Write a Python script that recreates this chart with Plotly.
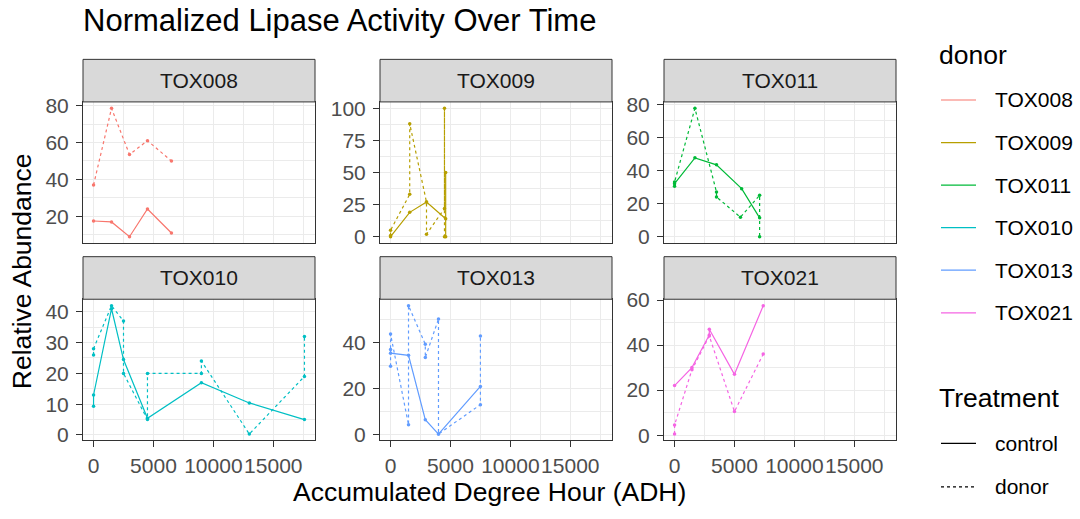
import plotly.graph_objects as go

W, H = 1080, 519

# ---------------- data ----------------
DONORS = ["TOX008", "TOX009", "TOX011", "TOX010", "TOX013", "TOX021"]
COLORS = ["#F8766D", "#B79F00", "#00BA38", "#00BFC4", "#619CFF", "#F564E3"]
TREATMENTS = ["control", "donor"]

tox008_control_adh = [0, 1500, 3000, 4500, 6500]
tox008_control_val = [17.5, 17, 9, 24, 11]
tox008_donor_adh = [0, 1500, 3000, 4500, 6500]
tox008_donor_val = [37, 78.5, 53.5, 61, 50]

tox009_control_adh = [0, 1600, 3000, 4600, 4600, 4600]
tox009_control_val = [0, 19, 27, 14, 50, 0]
tox009_donor_adh = [0, 0, 1600, 1600, 3000, 3000, 4500, 4500, 4500]
tox009_donor_val = [1, 5, 33, 88, 27, 2, 22, 100, 0]

tox011_control_adh = [0, 1700, 3500, 5600, 7100]
tox011_control_val = [32, 47.6, 43.4, 29, 11.4]
tox011_donor_adh = [0, 0, 1700, 3500, 3500, 5500, 7100, 7100]
tox011_donor_val = [30.5, 33, 77.5, 27, 24, 11.8, 25, 0]

tox010_control_adh = [0, 0, 1500, 2500, 4500, 9000, 13000, 17600]
tox010_control_val = [9.3, 13, 41, 24.5, 5.4, 17, 10.4, 5]
tox010_donor_adh = [0, 0, 1500, 2500, 2500, 4500, 4500, 9000, 9000, 13000, 17600, 17600]
tox010_donor_val = [26, 28, 42, 37, 20, 5, 20, 20, 24, 0.3, 19, 32]

tox013_control_adh = [0, 0, 1500, 2900, 4000, 7500]
tox013_control_val = [37, 35.4, 34.5, 6.6, 0.4, 21]
tox013_donor_adh = [0, 0, 1500, 1500, 2900, 2900, 4000, 4000, 7500, 7500]
tox013_donor_val = [29.8, 43.7, 4.4, 56, 39.3, 33.5, 50.2, 0.4, 13.1, 42.9]

tox021_control_adh = [0, 1450, 2900, 2900, 5000, 7400]
tox021_control_val = [22, 30, 44.5, 47, 27, 57.5]
tox021_donor_adh = [0, 0, 1450, 2900, 5000, 7400]
tox021_donor_val = [0.5, 4.5, 29, 44, 10.5, 36]

X_TICK_VALS = [0, 5000, 10000, 15000]
X_TICK_TEXT = ["0", "5000", "10000", "15000"]
Y_TICK_STEP = [20, 25, 20, 10, 20, 20]

SERIES = {
    "TOX008": {"control": (tox008_control_adh, tox008_control_val), "donor": (tox008_donor_adh, tox008_donor_val)},
    "TOX009": {"control": (tox009_control_adh, tox009_control_val), "donor": (tox009_donor_adh, tox009_donor_val)},
    "TOX011": {"control": (tox011_control_adh, tox011_control_val), "donor": (tox011_donor_adh, tox011_donor_val)},
    "TOX010": {"control": (tox010_control_adh, tox010_control_val), "donor": (tox010_donor_adh, tox010_donor_val)},
    "TOX013": {"control": (tox013_control_adh, tox013_control_val), "donor": (tox013_donor_adh, tox013_donor_val)},
    "TOX021": {"control": (tox021_control_adh, tox021_control_val), "donor": (tox021_donor_adh, tox021_donor_val)},
}

# ---------------- layout geometry (pixels) ----------------
COLS = [(83, 315), (380, 612), (664, 896)]
ROWS = [(94, 240), (298, 444)]
STRIP_H = 44
FONT = "Liberation Sans, Arial, sans-serif"
DASH = "3px,3px"


def px_x(p):
    return p / W


def px_y(p):
    return 1 - p / H


def expand(vals):
    lo, hi = min(vals), max(vals)
    pad = (hi - lo) * 0.05
    return [lo - pad, hi + pad]


all_x = [x for d in DONORS for t in TREATMENTS for x in SERIES[d][t][0]]
x_range = expand(all_x)

fig = go.Figure()
layout = {}
shapes = []
annotations = []

for i, donor in enumerate(DONORS):
    r, c = divmod(i, 3)
    n = "" if i == 0 else str(i + 1)
    x0, x1 = COLS[c]
    y0, y1 = ROWS[r]
    color = COLORS[i]
    panel_y = []
    for t in TREATMENTS:
        xs, ys = SERIES[donor][t]
        panel_y += ys
        fig.add_trace(go.Scatter(
            x=xs, y=ys, mode="lines+markers",
            line=dict(color=color, width=1.2, dash=None if t == "control" else DASH),
            marker=dict(size=3.5, color=color),
            xaxis="x" + n, yaxis="y" + n, showlegend=False,
            name=f"{donor} {t}",
        ))
    step = Y_TICK_STEP[i]
    bottom_row = r == 1
    layout["xaxis" + n] = dict(
        domain=[px_x(x0), px_x(x1)], anchor="y" + n, range=x_range,
        tickmode="array", tickvals=X_TICK_VALS, ticktext=X_TICK_TEXT,
        showticklabels=bottom_row, ticks="outside" if bottom_row else "",
        ticklen=6, tickwidth=1, tickcolor="#333333", tickangle=0,
        tickfont=dict(size=21, color="#4D4D4D", family=FONT),
        showgrid=True, gridcolor="#EBEBEB", gridwidth=1.1,
        minor=dict(tickmode="linear", tick0=0, dtick=2500, showgrid=True,
                   gridcolor="#EBEBEB", gridwidth=0.6, ticks=""),
        showline=True, mirror=True, linecolor="#333333", linewidth=1,
        zeroline=False, fixedrange=True,
    )
    layout["yaxis" + n] = dict(
        domain=[px_y(y1), px_y(y0)], anchor="x" + n, range=expand(panel_y),
        tickmode="linear", tick0=0, dtick=step,
        ticks="outside", ticklen=6, tickwidth=1, tickcolor="#333333",
        ticklabelstandoff=3,
        tickfont=dict(size=21, color="#4D4D4D", family=FONT),
        showgrid=True, gridcolor="#EBEBEB", gridwidth=1.1,
        minor=dict(tickmode="linear", tick0=0, dtick=step / 2, showgrid=True,
                   gridcolor="#EBEBEB", gridwidth=0.6, ticks=""),
        showline=True, mirror=True, linecolor="#333333", linewidth=1,
        zeroline=False, fixedrange=True,
    )
    # strip
    shapes.append(dict(type="rect", xref="paper", yref="paper",
                       x0=px_x(x0), x1=px_x(x1), y0=px_y(y0), y1=px_y(y0 - STRIP_H),
                       fillcolor="#D9D9D9", line=dict(color="#333333", width=1), layer="above"))
    annotations.append(dict(text=donor, xref="paper", yref="paper",
                            x=px_x((x0 + x1) / 2), y=px_y(y0 - STRIP_H / 2),
                            xanchor="center", yanchor="middle", showarrow=False,
                            font=dict(size=21, color="#1A1A1A", family=FONT)))

# axis titles
annotations.append(dict(text="Accumulated Degree Hour (ADH)", xref="paper", yref="paper",
                        x=px_x((COLS[0][0] + COLS[2][1]) / 2), y=px_y(497),
                        xanchor="center", yanchor="middle", showarrow=False,
                        font=dict(size=26.5, color="#000000", family=FONT)))
annotations.append(dict(text="Relative Abundance", xref="paper", yref="paper",
                        x=px_x(22), y=px_y((ROWS[0][0] + ROWS[1][1]) / 2), textangle=-90,
                        xanchor="center", yanchor="middle", showarrow=False,
                        font=dict(size=26.5, color="#000000", family=FONT)))

# legends (drawn ggplot style)
LEG_X, KEY_X0, KEY_X1, TXT_X = 937, 941, 976, 993
annotations.append(dict(text="donor", xref="paper", yref="paper", x=px_x(LEG_X), y=px_y(45),
                        xanchor="left", yanchor="middle", showarrow=False,
                        font=dict(size=26.5, color="#000000", family=FONT)))
for k, donor in enumerate(DONORS):
    yy = 92 + 44 * k
    shapes.append(dict(type="line", xref="paper", yref="paper", x0=px_x(KEY_X0), x1=px_x(KEY_X1),
                       y0=px_y(yy), y1=px_y(yy), line=dict(color=COLORS[k], width=1.2)))
    annotations.append(dict(text=donor, xref="paper", yref="paper", x=px_x(TXT_X), y=px_y(yy),
                            xanchor="left", yanchor="middle", showarrow=False,
                            font=dict(size=21, color="#000000", family=FONT)))
annotations.append(dict(text="Treatment", xref="paper", yref="paper", x=px_x(LEG_X), y=px_y(400),
                        xanchor="left", yanchor="middle", showarrow=False,
                        font=dict(size=26.5, color="#000000", family=FONT)))
for k, t in enumerate(TREATMENTS):
    yy = 447 + 45 * k
    shapes.append(dict(type="line", xref="paper", yref="paper", x0=px_x(KEY_X0), x1=px_x(KEY_X1),
                       y0=px_y(yy), y1=px_y(yy),
                       line=dict(color="#000000", width=1.2, dash=None if t == "control" else DASH)))
    annotations.append(dict(text=t, xref="paper", yref="paper", x=px_x(TXT_X), y=px_y(yy),
                            xanchor="left", yanchor="middle", showarrow=False,
                            font=dict(size=21, color="#000000", family=FONT)))

fig.update_layout(
    width=W, height=H, autosize=False,
    margin=dict(l=0, r=0, t=0, b=0),
    paper_bgcolor="white", plot_bgcolor="white",
    title=dict(text="Normalized Lipase Activity Over Time", x=px_x(83), xanchor="left",
               xref="paper", y=px_y(20), yref="container", yanchor="middle",
               font=dict(size=31, color="#000000", family=FONT)),
    shapes=shapes, annotations=annotations,
    font=dict(family=FONT),
    **layout,
)

fig.write_html("out.html", config={"displayModeBar": False},
               post_script="document.body.style.margin='0';")
